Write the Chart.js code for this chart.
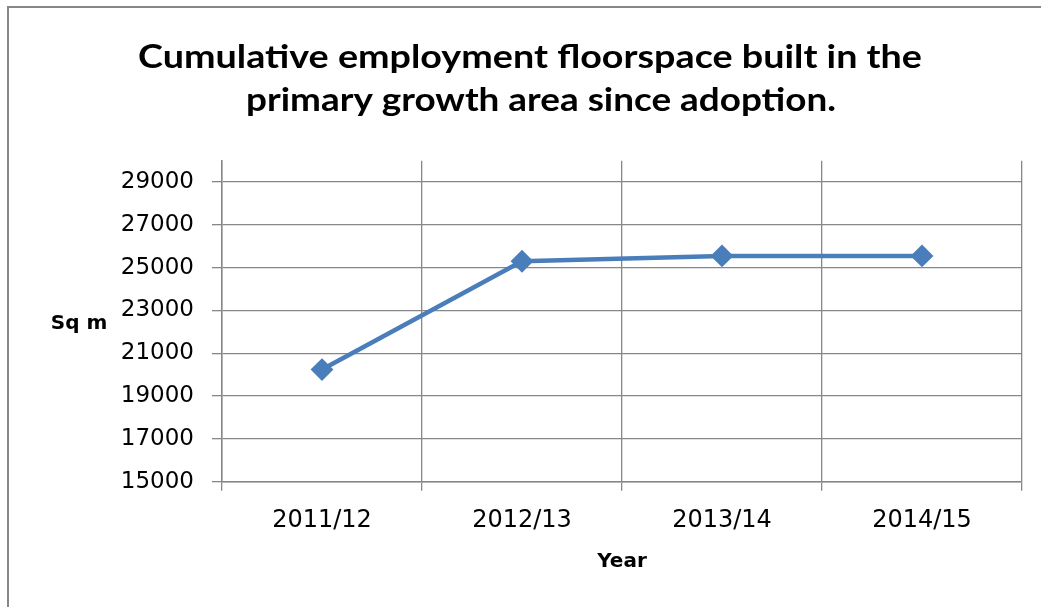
<!DOCTYPE html>
<html>
<head>
<meta charset="utf-8">
<script src="https://cdn.jsdelivr.net/npm/chart.js@4.4.0/dist/chart.umd.min.js"></script>
<style>
  html, body { margin: 0; padding: 0; background: #fff; }
  #wrap { width: 1041px; height: 607px; }
</style>
</head>
<body>
<div id="wrap"><canvas id="c" width="1041" height="607"></canvas></div>
<script>
// Chart text and values
const titleLines = ['Cumulative employment floorspace built in the', 'primary growth area since adoption.'];
const years = ['2011/12', '2012/13', '2013/14', '2014/15'];
const floorspace = [20240, 25300, 25550, 25550];
const yTickValues = [15000, 17000, 19000, 21000, 23000, 25000, 27000, 29000];
const yAxisTitle = 'Sq m';
const xAxisTitle = 'Year';

const GRID = '#878787';
const LINE = '#4a7ebb';

// Frame, wrapped title and horizontal y-axis caption
const decorations = {
  id: 'decorations',
  beforeDraw(chart) {
    const ctx = chart.ctx;
    ctx.save();
    ctx.fillStyle = '#fff';
    ctx.fillRect(0, 0, chart.width, chart.height);
    ctx.fillStyle = GRID;
    ctx.fillRect(7, 6, chart.width - 7, 2);
    ctx.fillRect(7, 6, 2, chart.height - 6);
    ctx.restore();
  },
  afterDraw(chart) {
    const ctx = chart.ctx;
    ctx.save();
    ctx.fillStyle = '#000';
    ctx.font = 'bold 32px Lato';
    ctx.textAlign = 'center';
    ctx.textBaseline = 'alphabetic';
    const widths = [784, 590];
    const centers = [530, 541];
    const baselines = [68, 111];
    titleLines.forEach((t, i) => {
      const sx = widths[i] / ctx.measureText(t).width;
      ctx.save();
      ctx.translate(centers[i], baselines[i]);
      ctx.scale(sx, 1);
      ctx.fillText(t, 0, 0);
      ctx.restore();
    });
    ctx.font = 'bold 20px "DejaVu Sans"';
    ctx.textBaseline = 'middle';
    ctx.fillText(yAxisTitle, 79, 324);
    ctx.restore();
  }
};

new Chart(document.getElementById('c'), {
  type: 'line',
  data: {
    labels: years,
    datasets: [{
      data: floorspace,
      borderColor: LINE,
      backgroundColor: LINE,
      borderWidth: 4.5,
      tension: 0,
      pointStyle: 'rectRot',
      pointRadius: 10,
      pointHoverRadius: 10,
      pointBorderWidth: 2,
      pointBackgroundColor: LINE,
      pointBorderColor: LINE
    }]
  },
  options: {
    responsive: false,
    animation: false,
    devicePixelRatio: 1,
    layout: { padding: { top: 160.7, left: 0, right: 19, bottom: 33 } },
    plugins: {
      legend: { display: false },
      title: { display: false },
      tooltip: { enabled: false }
    },
    scales: {
      x: {
        offset: true,
        grid: { offset: true, color: GRID, lineWidth: 1.3, tickLength: 9, tickColor: GRID },
        border: { color: GRID, width: 1.5 },
        ticks: { color: '#000', padding: 16, font: { family: 'DejaVu Sans', size: 24 }, maxRotation: 0 },
        title: { display: true, text: xAxisTitle, color: '#000', padding: { top: 3.5, bottom: 0 },
                 font: { family: 'DejaVu Sans', size: 20, weight: 'bold' } },
        afterFit(scale) { scale.height = 92.3; }
      },
      y: {
        min: 15000,
        max: 30000,
        afterBuildTicks(axis) { axis.ticks = yTickValues.map(v => ({ value: v })); },
        grid: { color: GRID, lineWidth: 1.3, tickLength: 10, tickColor: GRID },
        border: { color: GRID, width: 1.5 },
        ticks: { color: '#000', padding: 18, font: { family: 'DejaVu Sans', size: 23 },
                 callback: (v) => String(v) },
        afterFit(scale) { scale.width = 222; }
      }
    }
  },
  plugins: [decorations]
});
</script>
</body>
</html>
